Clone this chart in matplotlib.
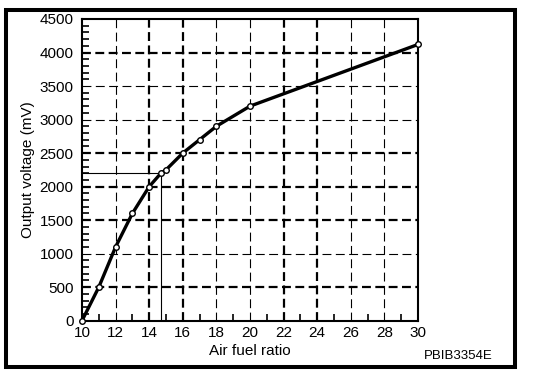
import matplotlib
matplotlib.use("Agg")
from matplotlib import pyplot as plt
from matplotlib.patches import Rectangle
from matplotlib.ticker import MultipleLocator

plt.rcParams['font.family'] = ['Liberation Sans', 'DejaVu Sans']

# valores
relacion_af = [10, 11, 12, 13, 14, 14.7, 15, 16, 17, 18, 20, 30]
voltaje_mv = [0, 500, 1100, 1600, 2000, 2200, 2250, 2500, 2700, 2900, 3200, 4120]

# punto marcado con las lineas finas (estequiometrico)
af_ref = 14.7
mv_ref = 2200

# lineas de la grilla, gruesas y finas
x_grilla_gruesa = [14, 16, 22, 24]
x_grilla_fina = [12, 18, 20, 26, 28]
y_grilla_gruesa = [500, 1500, 2000, 2500, 4000]
y_grilla_fina = [1000, 3000, 3500]

fig = plt.figure(figsize=(5.44, 3.80), dpi=100)
ax = fig.add_axes([0.1507, 0.156, 0.6176, 0.794])

# grilla a mano, porque tiene dos grosores
for x in x_grilla_gruesa:
    ax.axvline(x, color='black', lw=1.6, linestyle=(0, (4, 2)), zorder=1)
for x in x_grilla_fina:
    ax.axvline(x, color='black', lw=0.8, linestyle=(0, (8, 4)), zorder=1)
for y in y_grilla_gruesa:
    ax.axhline(y, color='black', lw=1.6, linestyle=(0, (4, 2)), zorder=1)
for y in y_grilla_fina:
    ax.axhline(y, color='black', lw=0.8, linestyle=(0, (8, 4)), zorder=1)

# lineas finas que marcan el punto de referencia
ax.plot([10, af_ref], [mv_ref, mv_ref], color='black', lw=0.8, zorder=2)
ax.plot([af_ref, af_ref], [0, mv_ref], color='black', lw=0.8, zorder=2)

# curva principal
ax.plot(relacion_af, voltaje_mv, color='black', lw=2.4, marker='o',
        markersize=4, markerfacecolor='white', markeredgecolor='black',
        markeredgewidth=1.0, zorder=3, clip_on=False)

ax.set_xlim(10, 30)
ax.set_ylim(0, 4500)
ax.xaxis.set_major_locator(MultipleLocator(2))
ax.xaxis.set_minor_locator(MultipleLocator(1))
ax.yaxis.set_major_locator(MultipleLocator(500))
ax.yaxis.set_minor_locator(MultipleLocator(100))

ax.tick_params(which='both', direction='in', color='black', width=1.2,
               top=False, right=False, labelsize=11)
ax.tick_params(which='major', length=0)
ax.tick_params(which='minor', length=5)
ax.tick_params(axis='x', pad=4)
ax.tick_params(axis='y', pad=6)

for s in ax.spines.values():
    s.set_linewidth(1.5)

ax.set_xlabel('Air fuel ratio', fontsize=11, labelpad=3)
ax.set_ylabel('Output voltage (mV)', fontsize=11, labelpad=3)

fig.text(0.843, 0.063, 'PBIB3354E', fontsize=9.5, ha='center', va='center')

# marco exterior grueso
fig.patches.append(Rectangle((0.011, 0.033), 0.9357, 0.942, transform=fig.transFigure,
                             fill=False, edgecolor='black', lw=2.9))

fig.savefig('out.png', dpi=100)
